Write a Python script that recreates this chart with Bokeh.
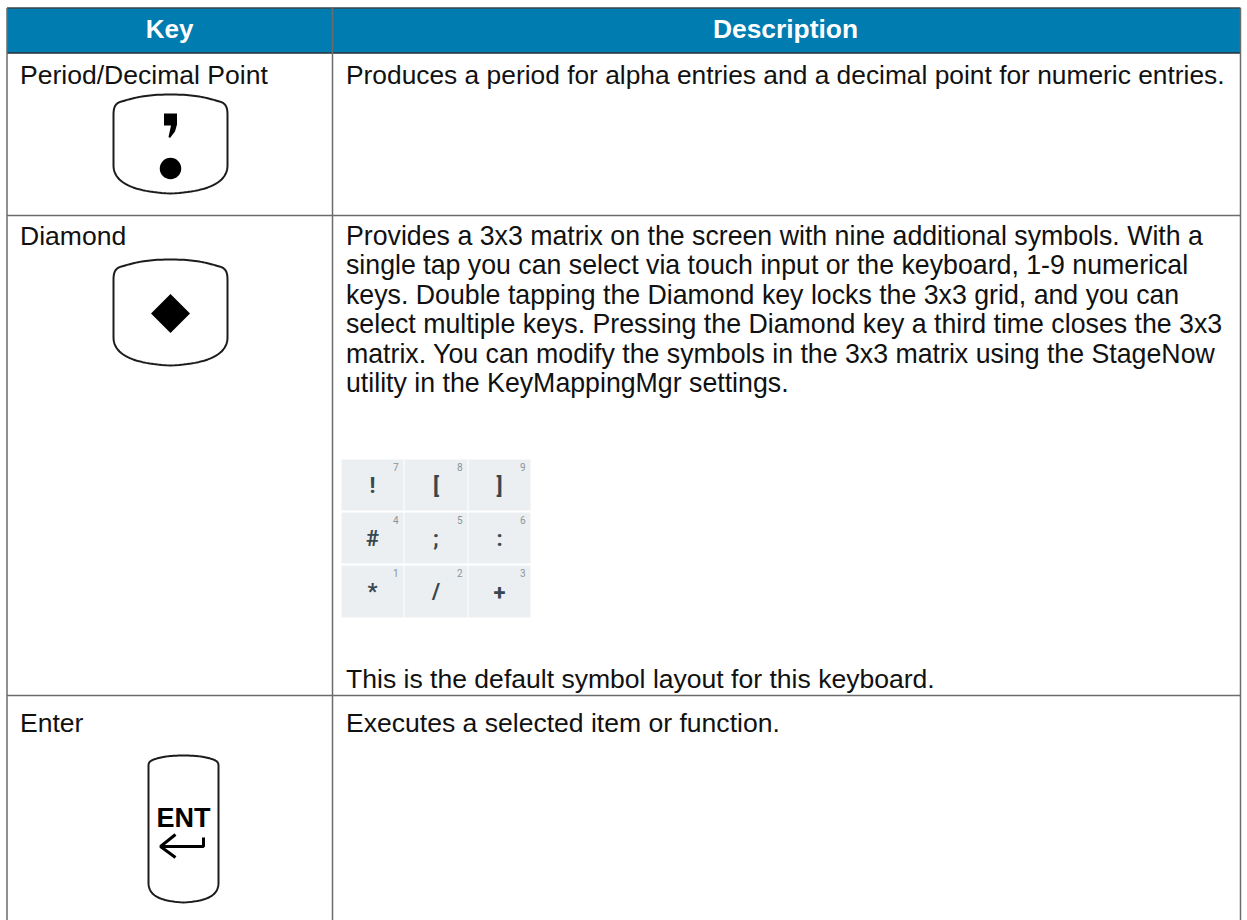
from bokeh.plotting import figure
from bokeh.embed import file_html
from bokeh.resources import INLINE
from bokeh.models import Range1d
from bokeh.core.properties import value
import numpy as np

# ---- content ----
headers = ["Key", "Description"]
key_names = ["Period/Decimal Point", "Diamond", "Enter"]
desc_first = ["Produces a period for alpha entries and a decimal point for numeric entries."]
desc_second = [
    "Provides a 3x3 matrix on the screen with nine additional symbols. With a",
    "single tap you can select via touch input or the keyboard, 1-9 numerical",
    "keys. Double tapping the Diamond key locks the 3x3 grid, and you can",
    "select multiple keys. Pressing the Diamond key a third time closes the 3x3",
    "matrix. You can modify the symbols in the 3x3 matrix using the StageNow",
    "utility in the KeyMappingMgr settings.",
]
desc_second_tail = ["This is the default symbol layout for this keyboard."]
desc_third = ["Executes a selected item or function."]
grid_symbols = ["!", "[", "]", "#", ";", ":", "*", "/", "+"]
grid_numbers = ["7", "8", "9", "4", "5", "6", "1", "2", "3"]

# ---- layout (pixel scale of the page) ----
TABLE_L, TABLE_R, COL_X = 6.5, 1240, 332
HEAD_T, HEAD_B = 7.5, 52.5
ROW_LINES = [215, 695]
BOTTOM = 920
FONT = "Liberation Sans"
BLUE = "#007CB0"
LINE = "#6b6b6b"
OFF = 0.37

p = figure(width=1247, height=920, output_backend="svg", toolbar_location=None,
           x_range=Range1d(0, 1247), y_range=Range1d(920, 0),
           min_border=0, outline_line_color=None)
p.margin = (0, 0, 0, 0)
p.xaxis.visible = False
p.yaxis.visible = False
p.grid.visible = False
p.background_fill_color = "white"


def txt(x, y, s, size=26.55, color="#111111", style="normal", align="left", font=FONT):
    p.text(x=[x], y=[y - OFF*size], text=[s], text_font=value(font), text_font_size=f"{size}px",
           text_color=color, text_font_style=style, text_align=align,
           text_baseline="alphabetic")


def bez(p0, c1, c2, p1, n=24):
    t = np.linspace(0, 1, n)[:, None]
    p0, c1, c2, p1 = map(np.array, (p0, c1, c2, p1))
    return (1-t)**3*p0 + 3*(1-t)**2*t*c1 + 3*(1-t)*t**2*c2 + t**3*p1


def keycap(l, r, t, b, top_sag, rt, rb_x, rb_y, width=2.0):
    cx = (l+r)/2
    segs = [
        bez((cx, t), (cx-(r-l)*.2, t), (l+rt*1.4, t+top_sag*.45), (l+rt*.5, t+top_sag+1)),
        bez((l+rt*.5, t+top_sag+1), (l, t+top_sag+3), (l, t+top_sag+rt*.6), (l, t+top_sag+rt)),
        np.array([[l, t+top_sag+rt], [l, b-rb_y]], float),
        bez((l, b-rb_y), (l, b-rb_y*.35), (l+rb_x*.45, b-1.5), (cx, b)),
    ]
    left = np.vstack(segs)
    right = left[::-1].copy()
    right[:, 0] = 2*cx - right[:, 0]
    pts = np.vstack([left, right])
    p.line(pts[:, 0], pts[:, 1], line_color="#1c1c1c", line_width=width)


# header band and table rules
p.quad(left=[TABLE_L], right=[TABLE_R], top=[HEAD_T], bottom=[HEAD_B],
       fill_color=BLUE, line_color=None)
p.segment(x0=[TABLE_L, TABLE_L, COL_X, TABLE_R, TABLE_L, TABLE_L],
          y0=[HEAD_T, HEAD_B, HEAD_T, HEAD_T, ROW_LINES[0], ROW_LINES[1]],
          x1=[TABLE_R, TABLE_R, COL_X, TABLE_R, TABLE_R, TABLE_R],
          y1=[HEAD_T, HEAD_B, BOTTOM, BOTTOM, ROW_LINES[0], ROW_LINES[1]],
          line_color=["#37474f", "#263238", LINE, LINE, LINE, LINE], line_width=1.5)
p.segment(x0=[TABLE_L], y0=[HEAD_T], x1=[TABLE_L], y1=[BOTTOM], line_color=LINE, line_width=1.5)

txt(169, 38, headers[0], 26, "white", "bold", "center")
txt(785, 38, headers[1], 26.4, "white", "bold", "center")

txt(19.5, 84, key_names[0])
txt(19.5, 245, key_names[1])
txt(19.5, 732, key_names[2])

txt(345.5, 84, desc_first[0], 26.35)
for i, line in enumerate(desc_second):
    txt(345.5, 245 + i*29.5, line, 26.72)
txt(345.5, 688, desc_second_tail[0])
txt(345.5, 732, desc_third[0])

# period / decimal key
keycap(113, 227, 94, 193, 6, 16, 50, 28)
p.patch([163.5, 176.5, 176.5, 174.5, 169.5, 168, 170.5, 163.5], [113, 113, 124, 131, 137.5, 136.5, 125, 125],
        fill_color="black", line_color=None)
p.scatter([170], [168], size=21.5, marker="circle", fill_color="black", line_color=None)

# diamond key
keycap(113, 227, 259, 365, 6, 16, 50, 28)
p.patch([150.5, 170, 189.5, 170], [313, 293.5, 313, 332.5], fill_color="black", line_color=None)

# 3x3 symbol grid
cell_l = [341, 404, 468]
cell_r = [403, 467, 530]
cell_t = [459, 512, 565]
cell_b = [510, 563, 617]
for i, (sym, num) in enumerate(zip(grid_symbols, grid_numbers)):
    r, c = divmod(i, 3)
    p.quad(left=[cell_l[c]], right=[cell_r[c]], top=[cell_t[r]], bottom=[cell_b[r]],
           fill_color="#ECEFF1", line_color=None)
    txt((cell_l[c]+cell_r[c])/2, cell_t[r] + 34.5, sym, 22, "#37474F", "bold", "center", "Roboto")
    txt(cell_r[c] - 5, cell_t[r] + 11, num, 10, "#8A9499", "normal", "right", "Roboto")

# enter key
keycap(148, 218, 755, 902, 3.5, 8, 24, 20)
txt(183, 827, "ENT", 27, "black", "bold", "center")
p.line([203, 203, 160], [837, 846, 846], line_color="black", line_width=3)
p.line([175, 160, 175], [834, 846, 857], line_color="black", line_width=3)

open("out.html", "w").write(file_html(p, INLINE))
